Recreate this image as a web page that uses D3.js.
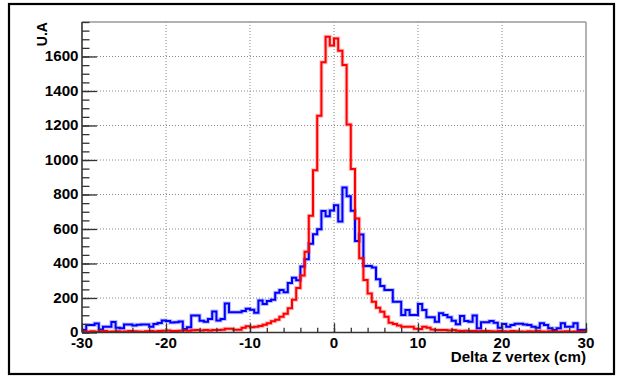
<!DOCTYPE html>
<html>
<head>
<meta charset="utf-8">
<script src="https://cdn.jsdelivr.net/npm/d3@7"></script>
<style>
  html, body { margin: 0; padding: 0; background: #fff; }
  svg { display: block; }
  text { font-family: "Liberation Sans", Arial, Helvetica, sans-serif; font-weight: bold; fill: #000; }
</style>
</head>
<body>
<svg id="chart" width="618" height="376"></svg>
<script>
// ---- data ----
const binLow = -30;
const binWidth = 0.5;
const xTickValues = [-30, -20, -10, 0, 10, 20, 30];
const yTickValues = [0, 200, 400, 600, 800, 1000, 1200, 1400, 1600];
const xTitle = "Delta Z vertex (cm)";
const yTitle = "U.A";

// blue histogram (120 bins, -30..30 cm)
const blueCounts = [
  15, 44, 44, 52, 18, 34, 34, 61, 28, 25,
  47, 47, 40, 45, 47, 47, 34, 49, 55, 70,
  66, 58, 60, 64, 20, 30, 99, 99, 68, 63,
  78, 122, 70, 78, 168, 118, 118, 118, 125, 137,
  132, 115, 186, 165, 182, 190, 230, 246, 234, 287,
  317, 303, 382, 424, 514, 570, 598, 704, 674, 707,
  737, 644, 840, 790, 706, 530, 568, 386, 386, 377,
  308, 269, 246, 246, 178, 178, 101, 130, 101, 101,
  165, 130, 88, 88, 63, 111, 101, 88, 68, 48,
  95, 66, 62, 99, 24, 59, 59, 66, 57, 28,
  49, 34, 43, 51, 51, 47, 43, 34, 28, 53,
  43, 24, 14, 24, 53, 34, 34, 53, 14, 14
];

// red histogram (120 bins, -30..30 cm)
const redCounts = [
  6, 5, 7, 5, 6, 8, 5, 6, 7, 5,
  6, 8, 7, 6, 5, 7, 8, 6, 9, 10,
  11, 9, 8, 10, 12, 10, 13, 15, 12, 14,
  12, 15, 15, 16, 22, 22, 16, 16, 28, 36,
  30, 34, 37, 45, 53, 65, 74, 92, 109, 140,
  190, 258, 330, 468, 677, 941, 1257, 1567, 1715, 1664,
  1705, 1633, 1551, 1206, 948, 661, 431, 304, 226, 178,
  144, 121, 92, 57, 49, 40, 34, 34, 34, 22,
  20, 34, 28, 18, 15, 15, 14, 12, 15, 10,
  9, 10, 8, 9, 7, 8, 9, 7, 6, 8,
  7, 6, 8, 7, 6, 5, 7, 6, 8, 6,
  5, 7, 6, 5, 6, 7, 5, 6, 5, 6
];

// ---- layout ----
const svg = d3.select("#chart");
const frame = { left: 82, right: 586, top: 22, bottom: 332.5 };

const x = d3.scaleLinear().domain([-30, 30]).range([frame.left, frame.right]);
const y = d3.scaleLinear().domain([0, 1800]).range([frame.bottom, frame.top]);

// outer canvas border
svg.append("rect")
  .attr("x", 9).attr("y", 4).attr("width", 605).attr("height", 370)
  .attr("fill", "none").attr("stroke", "#000").attr("stroke-width", 2.2);

// grid
const gridX = xTickValues.filter(v => v > -30 && v < 30);
const gridY = yTickValues.filter(v => v > 0);
svg.append("g").selectAll("line").data(gridX).join("line")
  .attr("x1", d => x(d)).attr("x2", d => x(d))
  .attr("y1", frame.top).attr("y2", frame.bottom)
  .attr("stroke", "#888").attr("stroke-width", 1).attr("stroke-dasharray", "1,2");
svg.append("g").selectAll("line").data(gridY).join("line")
  .attr("x1", frame.left).attr("x2", frame.right)
  .attr("y1", d => y(d)).attr("y2", d => y(d))
  .attr("stroke", "#888").attr("stroke-width", 1).attr("stroke-dasharray", "1,2");

// frame top and right (light)
svg.append("line").attr("x1", frame.left).attr("x2", frame.right)
  .attr("y1", frame.top).attr("y2", frame.top)
  .attr("stroke", "#999").attr("stroke-width", 1.5);
svg.append("line").attr("x1", frame.right).attr("x2", frame.right)
  .attr("y1", frame.top).attr("y2", frame.bottom)
  .attr("stroke", "#999").attr("stroke-width", 1.5);

// histograms
const edges = d3.range(blueCounts.length + 1).map(i => binLow + i * binWidth);
function stepPoints(counts) {
  const pts = counts.map((c, i) => [edges[i], c]);
  pts.push([edges[counts.length], counts[counts.length - 1]]);
  return pts;
}
const line = d3.line().x(d => x(d[0])).y(d => y(d[1])).curve(d3.curveStepAfter);

svg.append("clipPath").attr("id", "clip").append("rect")
  .attr("x", frame.left).attr("y", frame.top)
  .attr("width", frame.right - frame.left).attr("height", frame.bottom - frame.top);

const plot = svg.append("g").attr("clip-path", "url(#clip)");
[[blueCounts, "#0000ff"], [redCounts, "#ff0000"]].forEach(([counts, col]) => {
  plot.append("path").datum(stepPoints(counts)).attr("d", line)
    .attr("fill", "none").attr("stroke", col).attr("stroke-opacity", 0.25)
    .attr("stroke-width", 4).attr("stroke-linejoin", "miter");
  plot.append("path").datum(stepPoints(counts)).attr("d", line)
    .attr("fill", "none").attr("stroke", col)
    .attr("stroke-width", 2).attr("stroke-linejoin", "miter");
});

// axes (ROOT style: ticks inside)
const axisColor = "#333";
const xAxis = d3.axisTop(x).tickValues(xTickValues).tickSize(9.3).tickFormat("");
const xMinor = d3.axisTop(x).tickValues(d3.range(-30, 30.01, 2)).tickSize(4.7).tickFormat("");
const yAxis = d3.axisRight(y).tickValues(yTickValues).tickSize(15).tickFormat("");
const yMinor = d3.axisRight(y).tickValues(d3.range(0, 1800.1, 50)).tickSize(7.5).tickFormat("");

function styleAxis(g) {
  g.select(".domain").remove();
  g.selectAll("line").attr("stroke", axisColor).attr("stroke-width", 1.3);
}
svg.append("g").attr("transform", `translate(0,${frame.bottom})`).call(xMinor).call(styleAxis);
svg.append("g").attr("transform", `translate(0,${frame.bottom})`).call(xAxis).call(styleAxis);
svg.append("g").attr("transform", `translate(${frame.left},0)`).call(yMinor).call(styleAxis);
svg.append("g").attr("transform", `translate(${frame.left},0)`).call(yAxis).call(styleAxis);

// axis lines
svg.append("line").attr("x1", frame.left).attr("x2", frame.right)
  .attr("y1", frame.bottom).attr("y2", frame.bottom)
  .attr("stroke", axisColor).attr("stroke-width", 1.6);
svg.append("line").attr("x1", frame.left).attr("x2", frame.left)
  .attr("y1", frame.top).attr("y2", frame.bottom)
  .attr("stroke", axisColor).attr("stroke-width", 1.6);

// labels
const fs = 14;
const sx = 1.08;
svg.append("g").selectAll("text").data(xTickValues).join("text")
  .attr("transform", d => `translate(${x(d)},348) scale(${sx},1)`)
  .attr("text-anchor", "middle").attr("font-size", fs)
  .text(d => d);
svg.append("g").selectAll("text").data(yTickValues).join("text")
  .attr("transform", d => `translate(78.5,${y(d) + 4.6}) scale(${sx},1)`)
  .attr("text-anchor", "end").attr("font-size", fs)
  .text(d => d);

svg.append("text")
  .attr("transform", `translate(586,362) scale(${sx},1)`)
  .attr("text-anchor", "end").attr("font-size", fs)
  .text(xTitle);
svg.append("text")
  .attr("transform", `translate(46.5,22) rotate(-90)`)
  .attr("text-anchor", "end").attr("font-size", fs)
  .text(yTitle);
</script>
</body>
</html>
